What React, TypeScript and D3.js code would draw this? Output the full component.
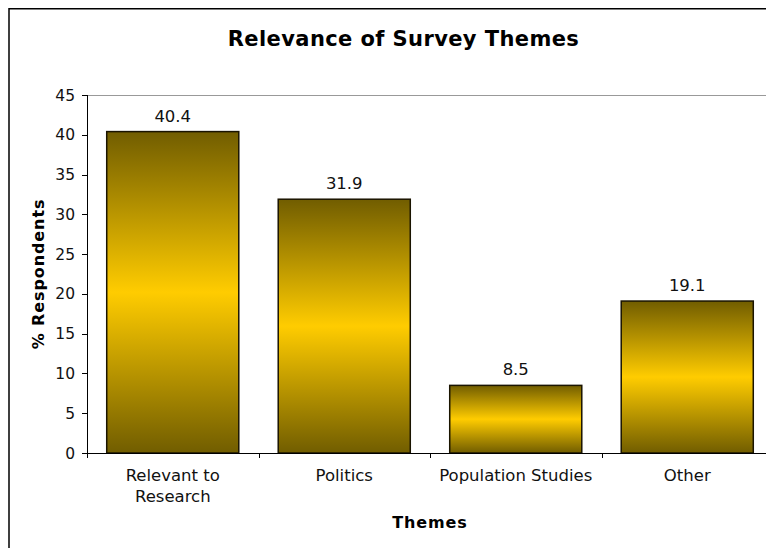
import React from "react";
import * as d3 from "d3";

const categories = [["Relevant to", "Research"], ["Politics"], ["Population Studies"], ["Other"]];
const values = [40.4, 31.9, 8.5, 19.1];
const yTicks = [0, 5, 10, 15, 20, 25, 30, 35, 40, 45];
const title = "Relevance of Survey Themes";
const xTitle = "Themes";
const yTitle = "% Respondents";

const W = 766;
const H = 540;
const m = { left: 79, right: 765, top: 87, bottom: 445 };
const FONT = "'DejaVu Sans', Verdana, sans-serif";

export default function App() {
  const x = d3.scaleBand<number>().domain(d3.range(values.length)).range([m.left, m.right]).paddingInner(0.23).paddingOuter(0.115);
  const y = d3.scaleLinear().domain([0, 45]).range([m.bottom, m.top]);
  const step = (m.right - m.left) / values.length;
  return (
    <svg width={W} height={H} style={{ display: "block" }} fontFamily={FONT}>
      <defs>
        <linearGradient id="barGrad" x1="0" y1="0" x2="0" y2="1">
          <stop offset="0" stopColor="#715d00" />
          <stop offset="0.5" stopColor="#ffcc00" />
          <stop offset="1" stopColor="#715d00" />
        </linearGradient>
      </defs>
      <rect x={1} y={0.75} width={W + 20} height={H + 20} fill="white" stroke="black" strokeWidth={1.5} />
      <text x={395.5} y={38} textAnchor="middle" fontSize={21} fontWeight="bold" letterSpacing={0.4}>{title}</text>
      {/* plot area border */}
      <line x1={m.left} x2={m.right} y1={m.top + 0.5} y2={m.top + 0.5} stroke="#999" />
      <line x1={m.right - 0.5} x2={m.right - 0.5} y1={m.top} y2={m.bottom} stroke="#999" />
      {values.map((v, i) => (
        <g key={i}>
          <rect x={x(i)!} y={y(v)} width={x.bandwidth()} height={y(0) - y(v)} fill="url(#barGrad)" stroke="#1a1400" strokeWidth={1.5} />
          <text x={x(i)! + x.bandwidth() / 2} y={y(v) - 10} textAnchor="middle" fontSize={16.5} fill="#111">{v.toFixed(1)}</text>
        </g>
      ))}
      {/* axes */}
      <line x1={m.left + 0.5} x2={m.left + 0.5} y1={m.top} y2={m.bottom} stroke="black" />
      <line x1={m.left} x2={m.right} y1={m.bottom + 0.5} y2={m.bottom + 0.5} stroke="black" />
      {yTicks.map((t) => (
        <g key={t}>
          <line x1={m.left - 5} x2={m.left} y1={Math.round(y(t)) + 0.5} y2={Math.round(y(t)) + 0.5} stroke="black" />
          <text x={67} y={y(t) + 5.5} textAnchor="end" fontSize={15.5} fill="#111">{t}</text>
        </g>
      ))}
      {d3.range(values.length + 1).map((i) => (
        <line key={i} x1={Math.round(m.left + i * step) + 0.5} x2={Math.round(m.left + i * step) + 0.5} y1={m.bottom} y2={m.bottom + 5} stroke="black" />
      ))}
      {categories.map((lines, i) => (
        <text key={i} x={x(i)! + x.bandwidth() / 2} textAnchor="middle" fontSize={16.5} fill="#111">
          {lines.map((l, j) => (
            <tspan key={j} x={x(i)! + x.bandwidth() / 2} y={472.5 + j * 21}>{l}</tspan>
          ))}
        </text>
      ))}
      <text x={422} y={520} textAnchor="middle" fontSize={16} fontWeight="bold" letterSpacing={0.9}>{xTitle}</text>
      <text transform={`translate(36,266) rotate(-90)`} textAnchor="middle" fontSize={16} fontWeight="bold" letterSpacing={0.9}>{yTitle}</text>
    </svg>
  );
}
